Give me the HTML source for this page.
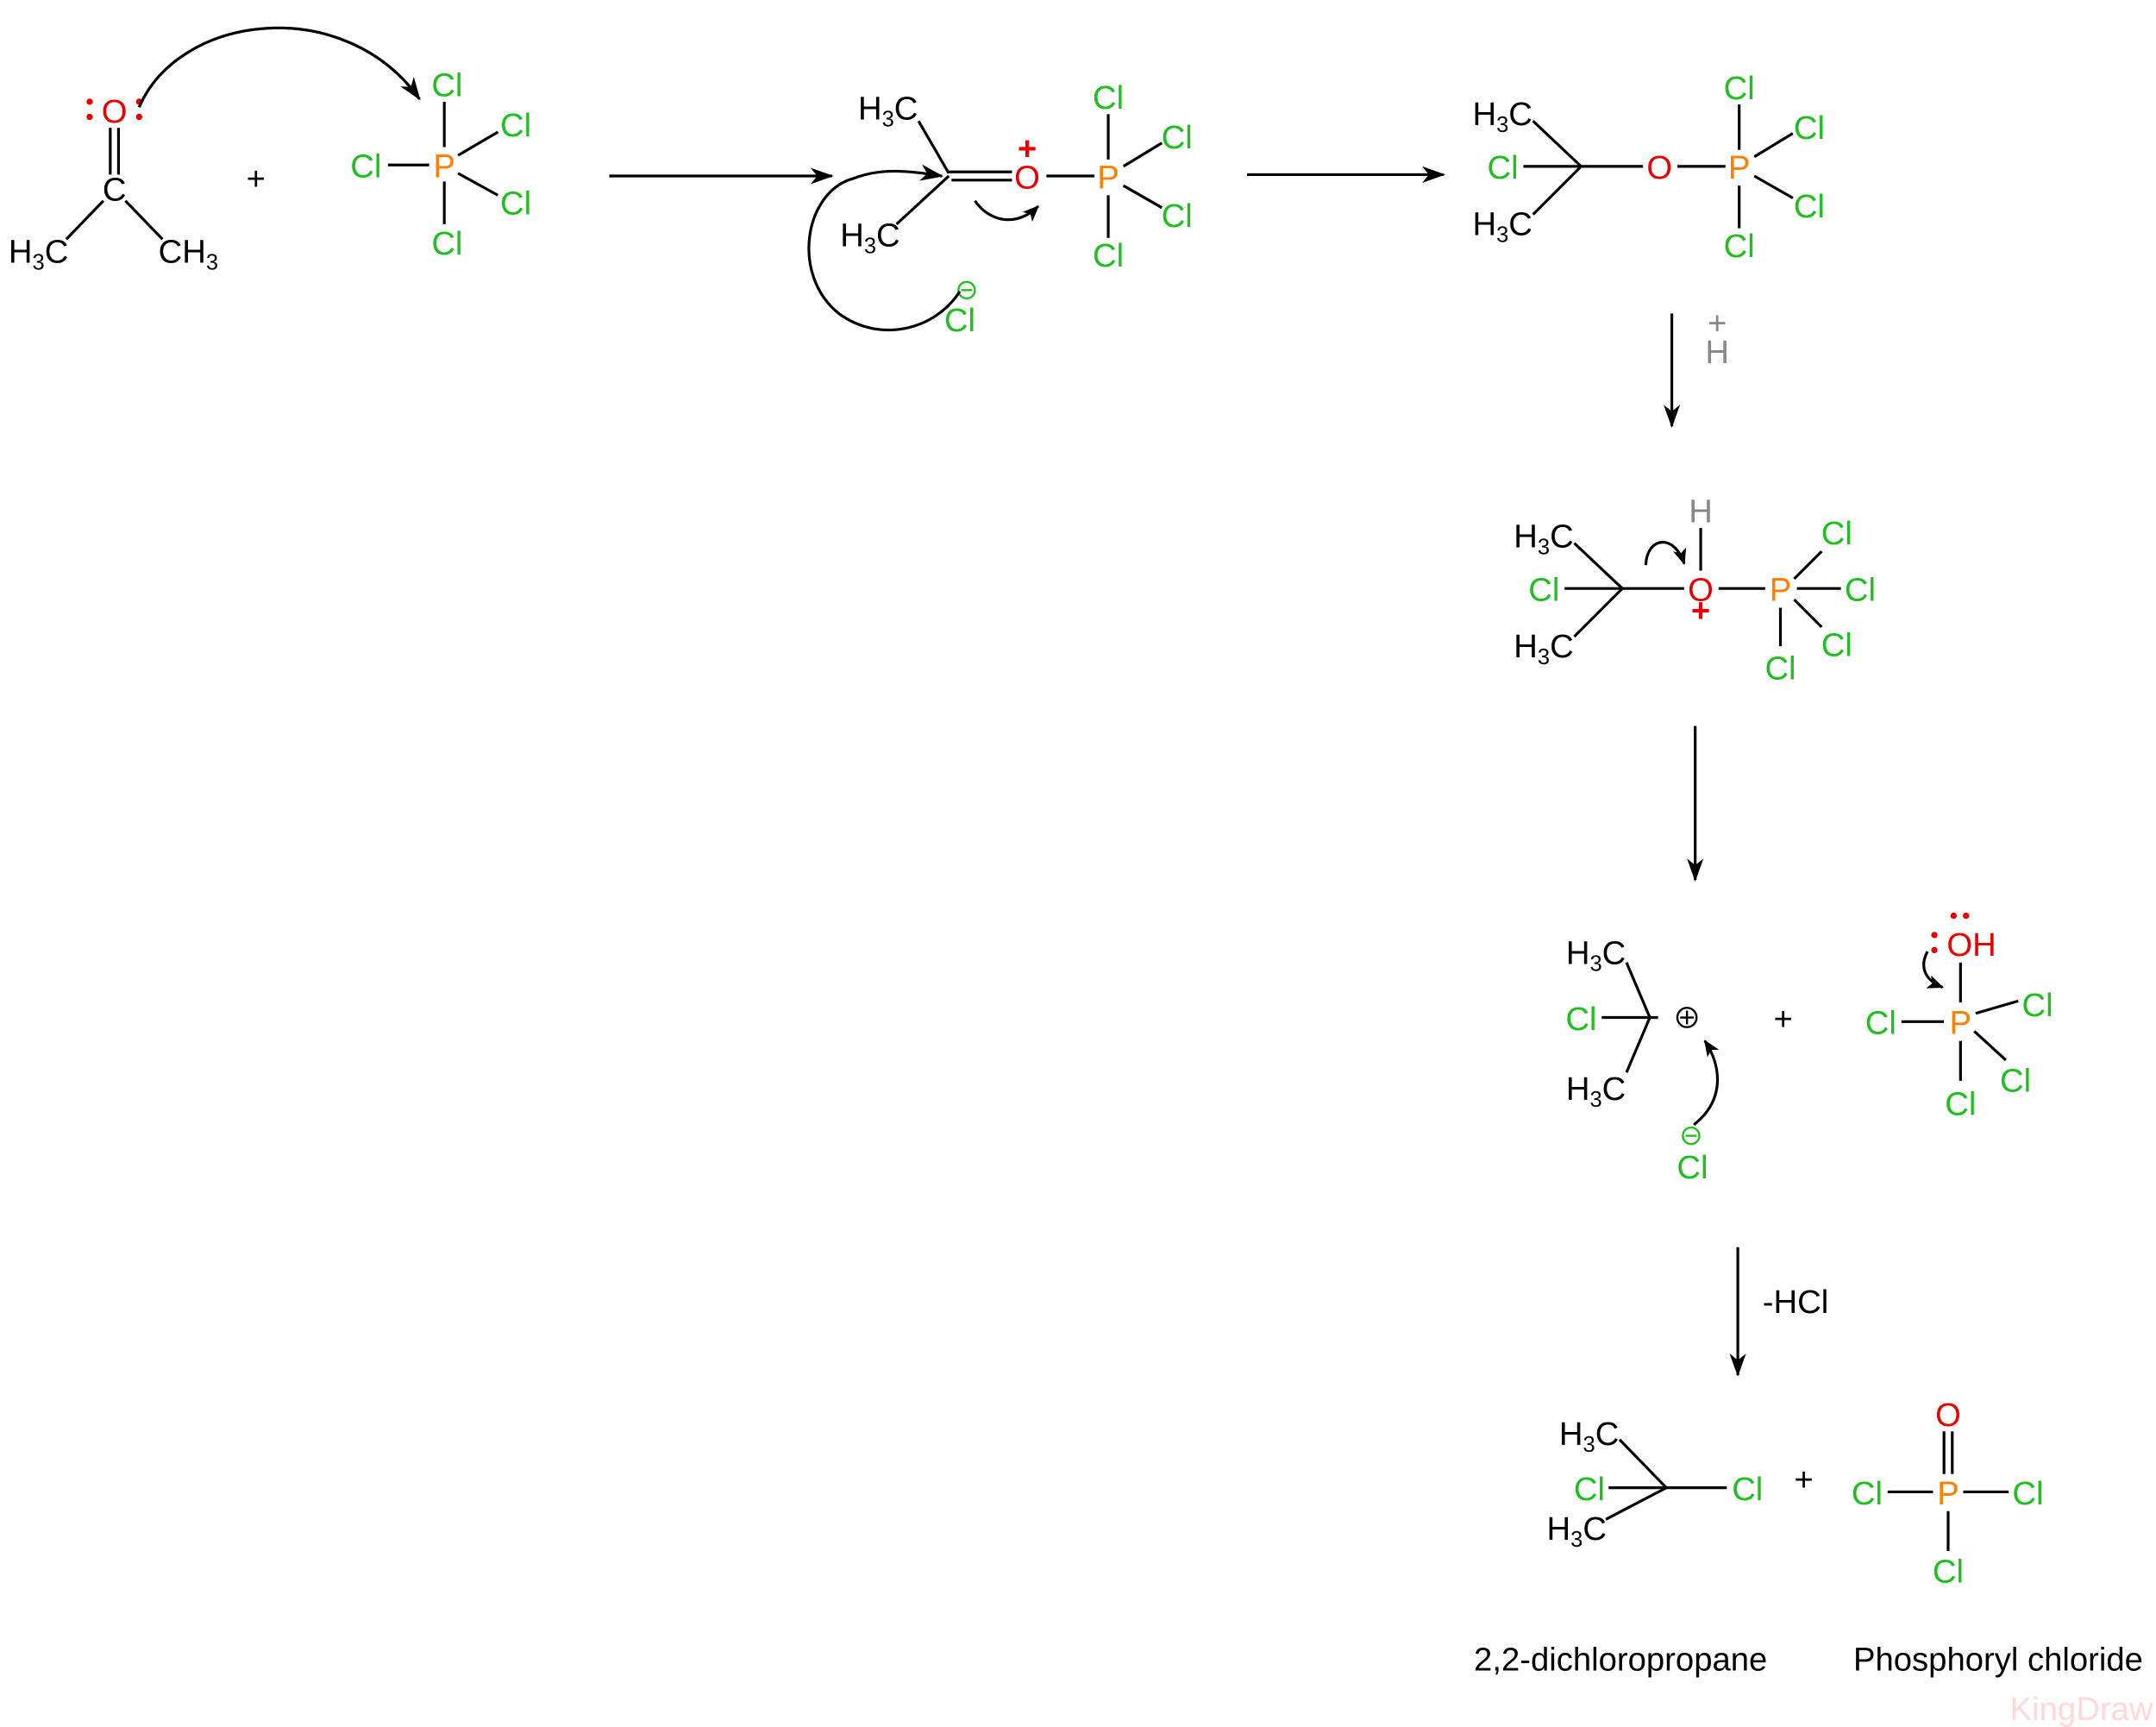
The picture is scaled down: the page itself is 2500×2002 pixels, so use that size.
<!DOCTYPE html>
<html><head><meta charset="utf-8"><style>
html,body{margin:0;padding:0;background:#fff}
svg{display:block}
text{font-family:"Liberation Sans",Arial,sans-serif;font-size:24px}
.g{fill:#1fbf1f}.o{fill:#ff8000}.r{fill:#e60000}.k{fill:#000}.gr{fill:#888}
.m{text-anchor:middle}
line,path.b{stroke:#000;stroke-width:2;fill:none}
path.c{stroke:#000;stroke-width:2;fill:none}
</style></head><body>
<svg width="2500" height="2002" viewBox="0 0 1568 1256" xmlns="http://www.w3.org/2000/svg">
<defs>
<marker id="ah" viewBox="0 0 12 10" refX="11" refY="5" markerWidth="12" markerHeight="10" markerUnits="userSpaceOnUse" orient="auto"><path d="M0,0 L12,5 L0,10 L3,5 Z" fill="#000"/></marker>
<marker id="ah2" viewBox="0 0 14 10" refX="13" refY="5" markerWidth="18" markerHeight="12" markerUnits="userSpaceOnUse" orient="auto"><path d="M0,0 L14,5 L0,10 L4,5 Z" fill="#000"/></marker>
</defs>

<!-- Molecule 1: acetone -->
<text x="83" y="89" class="r m">O</text>
<circle cx="65" cy="74" r="2.3" fill="#e60000"/><circle cx="65" cy="85" r="2.3" fill="#e60000"/>
<circle cx="101" cy="74" r="2.3" fill="#e60000"/><circle cx="101" cy="85" r="2.3" fill="#e60000"/>
<line x1="80" y1="93" x2="80" y2="127"/><line x1="86" y1="93" x2="86" y2="127"/>
<text x="83" y="146" class="k m">C</text>
<line x1="75" y1="146" x2="48" y2="174"/><line x1="91" y1="146" x2="118" y2="174"/>
<text x="6" y="191" class="k">H<tspan font-size="16" dy="5">3</tspan><tspan dy="-5">C</tspan></text>
<text x="115" y="191" class="k">CH<tspan font-size="16" dy="5">3</tspan></text>
<path class="c" d="M101,78 C130,10 250,-5 305,72" marker-end="url(#ah2)"/>
<text x="186" y="138" class="k m" font-size="19">+</text>
<!-- PCl5 -->
<text x="323" y="129" class="o m">P</text>
<text x="325" y="70" class="g m">Cl</text>
<text x="375" y="99" class="g m">Cl</text>
<text x="266" y="129" class="g m">Cl</text>
<text x="375" y="156" class="g m">Cl</text>
<text x="325" y="185" class="g m">Cl</text>
<line x1="323" y1="74" x2="323" y2="107"/><line x1="323" y1="132" x2="323" y2="163"/>
<line x1="282" y1="120" x2="312" y2="120"/>
<line x1="333" y1="113" x2="362" y2="96"/><line x1="333" y1="126" x2="362" y2="142"/>

<line x1="443" y1="128" x2="605" y2="128" marker-end="url(#ah2)"/>

<!-- Molecule 2 -->
<text x="624" y="87" class="k">H<tspan font-size="16" dy="5">3</tspan><tspan dy="-5">C</tspan></text>
<text x="611" y="179" class="k">H<tspan font-size="16" dy="5">3</tspan><tspan dy="-5">C</tspan></text>
<line x1="668" y1="88" x2="690" y2="126"/><line x1="652" y1="163" x2="690" y2="128"/>
<line x1="690" y1="125" x2="736" y2="125"/><line x1="692" y1="131" x2="736" y2="131"/>
<text x="747" y="137" class="r m">O</text>
<text x="747" y="116" class="r m" font-size="17" font-weight="bold">+</text>
<line x1="761" y1="128" x2="796" y2="128"/>
<text x="806" y="137" class="o m">P</text>
<text x="806" y="79" class="g m">Cl</text>
<text x="856" y="108" class="g m">Cl</text>
<text x="856" y="165" class="g m">Cl</text>
<text x="806" y="194" class="g m">Cl</text>
<line x1="806" y1="83" x2="806" y2="116"/><line x1="806" y1="142" x2="806" y2="173"/>
<line x1="817" y1="121" x2="845" y2="104"/><line x1="817" y1="135" x2="845" y2="151"/>
<path class="c" d="M709,146 C720,162 740,165 755,150" marker-end="url(#ah)"/>
<text x="698" y="241" class="g m">Cl</text>
<circle cx="703" cy="211" r="6" fill="none" stroke="#1fbf1f" stroke-width="1.5"/><line x1="699" y1="211" x2="707" y2="211" style="stroke:#1fbf1f;stroke-width:1.5"/>
<path class="c" d="M698,212 C680,240 640,250 610,228 C575,200 585,140 620,130 C640,122 660,124 685,128" marker-end="url(#ah2)"/>

<line x1="907" y1="127" x2="1050" y2="127" marker-end="url(#ah2)"/>

<!-- Molecule 3 -->
<text x="1071" y="91" class="k">H<tspan font-size="16" dy="5">3</tspan><tspan dy="-5">C</tspan></text>
<text x="1093" y="130" class="g m">Cl</text>
<text x="1071" y="171" class="k">H<tspan font-size="16" dy="5">3</tspan><tspan dy="-5">C</tspan></text>
<line x1="1115" y1="88" x2="1150" y2="121"/><line x1="1115" y1="156" x2="1150" y2="121"/>
<line x1="1108" y1="121" x2="1195" y2="121"/>
<text x="1207" y="130" class="r m">O</text>
<line x1="1220" y1="121" x2="1255" y2="121"/>
<text x="1265" y="130" class="o m">P</text>
<text x="1265" y="72" class="g m">Cl</text>
<text x="1316" y="101" class="g m">Cl</text>
<text x="1316" y="158" class="g m">Cl</text>
<text x="1265" y="187" class="g m">Cl</text>
<line x1="1265" y1="76" x2="1265" y2="109"/><line x1="1265" y1="135" x2="1265" y2="166"/>
<line x1="1276" y1="114" x2="1304" y2="97"/><line x1="1276" y1="128" x2="1304" y2="144"/>

<line x1="1216" y1="228" x2="1216" y2="310" marker-end="url(#ah2)"/>
<text x="1249" y="264" class="gr m">H</text>
<text x="1249" y="243" class="gr m" font-size="17">+</text>

<!-- Molecule 4 -->
<text x="1101" y="398" class="k">H<tspan font-size="16" dy="5">3</tspan><tspan dy="-5">C</tspan></text>
<text x="1123" y="437" class="g m">Cl</text>
<text x="1101" y="478" class="k">H<tspan font-size="16" dy="5">3</tspan><tspan dy="-5">C</tspan></text>
<line x1="1145" y1="395" x2="1180" y2="428"/><line x1="1145" y1="463" x2="1180" y2="428"/>
<line x1="1138" y1="428" x2="1225" y2="428"/>
<text x="1237" y="437" class="r m">O</text>
<text x="1237" y="452" class="r m" font-size="15" font-weight="bold">+</text>
<text x="1237" y="380" class="gr m">H</text>
<line x1="1237" y1="384" x2="1237" y2="415"/>
<line x1="1250" y1="428" x2="1284" y2="428"/>
<text x="1295" y="437" class="o m">P</text>
<text x="1336" y="396" class="g m">Cl</text>
<text x="1353" y="437" class="g m">Cl</text>
<text x="1336" y="477" class="g m">Cl</text>
<text x="1295" y="494" class="g m">Cl</text>
<line x1="1305" y1="421" x2="1325" y2="401"/><line x1="1307" y1="428" x2="1339" y2="428"/>
<line x1="1305" y1="436" x2="1325" y2="456"/><line x1="1295" y1="442" x2="1295" y2="470"/>
<path class="c" d="M1197,411 C1198,390 1218,388 1225,410" marker-end="url(#ah)"/>

<line x1="1233" y1="528" x2="1233" y2="640" marker-end="url(#ah2)"/>

<!-- Molecule 5 -->
<text x="1139" y="701" class="k">H<tspan font-size="16" dy="5">3</tspan><tspan dy="-5">C</tspan></text>
<text x="1150" y="749" class="g m">Cl</text>
<text x="1139" y="800" class="k">H<tspan font-size="16" dy="5">3</tspan><tspan dy="-5">C</tspan></text>
<line x1="1183" y1="700" x2="1200" y2="740"/><line x1="1183" y1="780" x2="1200" y2="740"/>
<line x1="1165" y1="740" x2="1206" y2="740"/>
<circle cx="1227" cy="740" r="7" fill="none" stroke="#000" stroke-width="1.5"/>
<line x1="1222" y1="740" x2="1232" y2="740" style="stroke-width:1.5"/><line x1="1227" y1="735" x2="1227" y2="745" style="stroke-width:1.5"/>
<text x="1231" y="857" class="g m">Cl</text>
<circle cx="1230" cy="826" r="6" fill="none" stroke="#1fbf1f" stroke-width="1.5"/><line x1="1226" y1="826" x2="1234" y2="826" style="stroke:#1fbf1f;stroke-width:1.5"/>
<path class="c" d="M1232,818 C1255,800 1252,775 1240,757" marker-end="url(#ah)"/>
<text x="1297" y="749" class="k m" font-size="19">+</text>
<text x="1426" y="752" class="o m">P</text>
<text x="1434" y="695" class="r m">OH</text>
<circle cx="1407" cy="680" r="2.3" fill="#e60000"/><circle cx="1407" cy="691" r="2.3" fill="#e60000"/>
<circle cx="1421" cy="666" r="2.3" fill="#e60000"/><circle cx="1430" cy="666" r="2.3" fill="#e60000"/>
<line x1="1426" y1="700" x2="1426" y2="729"/>
<text x="1368" y="752" class="g m">Cl</text>
<text x="1482" y="739" class="g m">Cl</text>
<text x="1466" y="794" class="g m">Cl</text>
<text x="1426" y="811" class="g m">Cl</text>
<line x1="1383" y1="743" x2="1414" y2="743"/><line x1="1437" y1="737" x2="1468" y2="728"/>
<line x1="1436" y1="750" x2="1459" y2="771"/><line x1="1426" y1="757" x2="1426" y2="786"/>
<path class="c" d="M1402,692 C1396,703 1400,713 1413,718" marker-end="url(#ah)"/>

<line x1="1264" y1="907" x2="1264" y2="1000" marker-end="url(#ah2)"/>
<text x="1282" y="955" class="k">-HCl</text>

<!-- Molecule 6 -->
<text x="1134" y="1051" class="k">H<tspan font-size="16" dy="5">3</tspan><tspan dy="-5">C</tspan></text>
<text x="1156" y="1091" class="g m">Cl</text>
<text x="1271" y="1091" class="g m">Cl</text>
<text x="1125" y="1120" class="k">H<tspan font-size="16" dy="5">3</tspan><tspan dy="-5">C</tspan></text>
<line x1="1178" y1="1047" x2="1212" y2="1082"/><line x1="1168" y1="1105" x2="1212" y2="1082"/>
<line x1="1170" y1="1082" x2="1256" y2="1082"/>
<text x="1312" y="1084" class="k m" font-size="19">+</text>
<text x="1417" y="1094" class="o m">P</text>
<text x="1417" y="1037" class="r m">O</text>
<line x1="1414" y1="1041" x2="1414" y2="1072"/><line x1="1420" y1="1041" x2="1420" y2="1072"/>
<text x="1358" y="1094" class="g m">Cl</text>
<text x="1475" y="1094" class="g m">Cl</text>
<text x="1417" y="1151" class="g m">Cl</text>
<line x1="1373" y1="1085" x2="1406" y2="1085"/><line x1="1428" y1="1085" x2="1461" y2="1085"/>
<line x1="1417" y1="1099" x2="1417" y2="1128"/>

<text x="1072" y="1215" class="k">2,2-dichloropropane</text>
<text x="1348" y="1215" class="k">Phosphoryl chloride</text>
<text x="1566" y="1251" fill="#ffd9d9" font-size="14" text-anchor="end">KingDraw</text>
</svg>
</body></html>
